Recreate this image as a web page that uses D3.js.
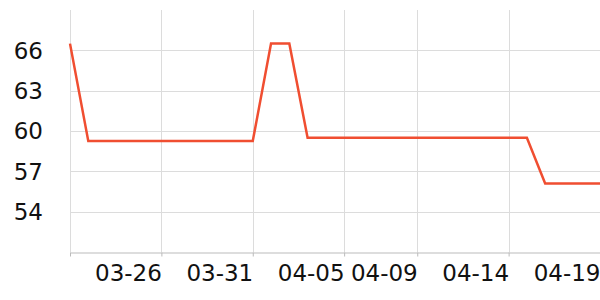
<!DOCTYPE html>
<html>
<head>
<meta charset="utf-8">
<script src="https://cdn.jsdelivr.net/npm/d3@7"></script>
<style>
  body { margin: 0; background: #fff; }
  svg text { font-family: "DejaVu Sans", sans-serif; fill: #111; }
</style>
</head>
<body>
<div id="chart"></div>
<script>
// one value per day, 03-21 .. 04-19
const startDate = "2021-03-21";
const values = [
  66.5, 59.25, 59.25, 59.25, 59.25, 59.25, 59.25, 59.25, 59.25, 59.25,
  59.25, 66.5, 66.5, 59.5, 59.5, 59.5, 59.5, 59.5, 59.5, 59.5,
  59.5, 59.5, 59.5, 59.5, 59.5, 59.5, 56.1, 56.1, 56.1, 56.1
];
const tickDates = ["2021-03-21", "2021-03-26", "2021-03-31", "2021-04-05", "2021-04-09", "2021-04-14", "2021-04-19"];
const yTicks = [54, 57, 60, 63, 66];
const yDomain = [51, 69];

const width = 600, height = 300;
const margin = { top: 10, right: 0, bottom: 48, left: 70 };
const parse = d3.timeParse("%Y-%m-%d");
const fmt = d3.timeFormat("%m-%d");

const t0 = parse(startDate);
const data = values.map((v, i) => ({ date: d3.timeDay.offset(t0, i), value: v }));

const x = d3.scaleTime()
  .domain(d3.extent(data, d => d.date))
  .range([margin.left, width - margin.right]);

const y = d3.scaleLinear()
  .domain(yDomain)
  .range([height - margin.bottom, margin.top]);

const svg = d3.select("#chart").append("svg")
  .attr("width", width)
  .attr("height", height);

const ticks = tickDates.map(parse);

// vertical grid
svg.append("g")
  .selectAll("line")
  .data(ticks.filter(d => x(d) < width - 1))
  .enter().append("line")
  .attr("x1", d => Math.round(x(d)) + 0.5)
  .attr("x2", d => Math.round(x(d)) + 0.5)
  .attr("y1", margin.top)
  .attr("y2", height - margin.bottom)
  .attr("stroke", "#dcdcdc");

// horizontal grid
svg.append("g")
  .selectAll("line")
  .data(yTicks)
  .enter().append("line")
  .attr("x1", margin.left)
  .attr("x2", width - margin.right)
  .attr("y1", d => Math.round(y(d)) + 0.5)
  .attr("y2", d => Math.round(y(d)) + 0.5)
  .attr("stroke", "#dcdcdc");

// y labels
svg.append("g")
  .selectAll("text")
  .data(yTicks)
  .enter().append("text")
  .attr("x", 43)
  .attr("y", d => y(d))
  .attr("dy", "0.36em")
  .attr("text-anchor", "end")
  .style("font-size", "23px")
  .text(d => d);

// x axis
const xAxis = svg.append("g")
  .attr("transform", `translate(0,${Math.round(height - margin.bottom) + 0.5})`)
  .call(d3.axisBottom(x).tickValues(ticks).tickSize(4).tickSizeOuter(0).tickFormat(fmt));

xAxis.select(".domain").attr("stroke", "#bbb");
xAxis.selectAll(".tick line").attr("stroke", "#bbb");
xAxis.selectAll(".tick text")
  .attr("text-anchor", "end")
  .attr("y", 12)
  .attr("dy", "0.71em")
  .style("font-size", "23px")
  .style("font-family", "DejaVu Sans, sans-serif")
  .attr("fill", "#111")
  .text(d => (+d === +ticks[0] ? "" : fmt(d)));

// line
const line = d3.line()
  .x(d => x(d.date))
  .y(d => y(d.value));

svg.append("path")
  .datum(data)
  .attr("fill", "none")
  .attr("stroke", "#f04e31")
  .attr("stroke-width", 2.5)
  .attr("stroke-linejoin", "miter")
  .attr("d", line);
</script>
</body>
</html>
